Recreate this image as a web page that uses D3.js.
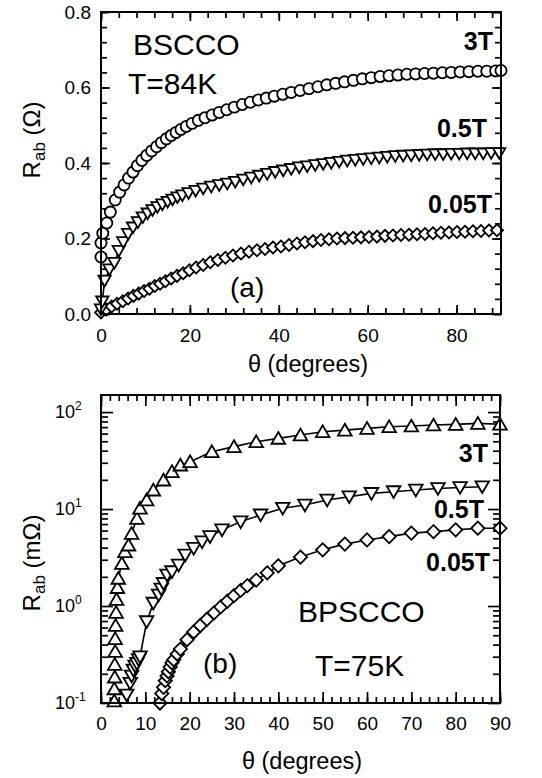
<!DOCTYPE html>
<html><head><meta charset="utf-8">
<script src="https://cdn.jsdelivr.net/npm/d3@7/dist/d3.min.js"></script>
<style>
body{margin:0;background:#fff;}
text{font-family:"Liberation Sans",Arial,Helvetica,sans-serif;fill:#000;}
</style></head>
<body>
<svg id="chart" width="542" height="778"></svg>
<script>
// ---------- DATA: panel (a) BSCCO, T=84K, R_ab in Ohm ----------
const a3T = [[0,0.151],[0,0.188],[0.4,0.214],[1.3,0.241],[2.1,0.270],[3.2,0.302],[4.2,0.323],[5.2,0.342],[6.2,0.360],[7.2,0.376],[8.2,0.393],[9.2,0.407],[10.3,0.420],[11.4,0.432],[12.5,0.443],[13.6,0.454],[14.7,0.464],[15.8,0.473],[16.9,0.481],[18.0,0.489],[19.2,0.497],[20.5,0.505],[21.9,0.513],[23.4,0.520],[25.0,0.527],[26.6,0.534],[28.3,0.541],[30.0,0.548],[31.8,0.555],[33.6,0.561],[35.4,0.567],[37.2,0.572],[39.0,0.577],[40.9,0.582],[42.8,0.587],[44.8,0.592],[46.8,0.597],[48.8,0.602],[50.8,0.607],[52.8,0.611],[54.8,0.615],[56.8,0.619],[58.8,0.623],[60.8,0.626],[62.8,0.629],[64.8,0.631],[66.8,0.633],[68.8,0.635],[70.8,0.636],[72.8,0.637],[74.8,0.638],[76.8,0.639],[78.8,0.640],[80.8,0.641],[82.8,0.642],[84.8,0.643],[86.8,0.643],[88.8,0.644],[90,0.645]];
const a05T = [[0,0.012],[0.3,0.033],[0.8,0.088],[1.9,0.118],[3.0,0.135],[4.0,0.167],[5.0,0.190],[6.1,0.212],[7.2,0.229],[8.3,0.243],[9.4,0.256],[10.5,0.266],[11.6,0.275],[12.7,0.283],[13.8,0.290],[15.0,0.297],[16.1,0.303],[17.2,0.309],[18.3,0.314],[19.7,0.320],[21.3,0.326],[23.0,0.332],[24.8,0.337],[26.6,0.341],[28.4,0.345],[30.2,0.350],[32.0,0.356],[33.8,0.361],[35.6,0.366],[37.4,0.371],[39.2,0.376],[41.0,0.380],[42.8,0.384],[44.6,0.388],[46.4,0.391],[48.2,0.394],[50.0,0.397],[51.8,0.400],[53.6,0.403],[55.4,0.406],[57.2,0.408],[59.0,0.410],[60.8,0.412],[62.6,0.414],[64.4,0.416],[66.2,0.418],[68.0,0.419],[69.8,0.420],[71.6,0.421],[73.4,0.422],[75.2,0.423],[77.0,0.423],[78.8,0.424],[80.6,0.424],[82.4,0.425],[84.2,0.425],[86.0,0.425],[87.8,0.426],[89.6,0.426]];
const a005T = [[0,0.004],[1.2,0.012],[2.4,0.020],[3.6,0.027],[4.9,0.034],[6.1,0.041],[7.3,0.048],[8.5,0.054],[9.7,0.061],[10.9,0.067],[12.1,0.074],[13.3,0.080],[14.5,0.087],[15.8,0.094],[17.1,0.101],[18.5,0.108],[19.9,0.116],[21.4,0.123],[23.0,0.130],[24.6,0.137],[26.3,0.143],[28.0,0.149],[29.7,0.155],[31.5,0.160],[33.3,0.165],[35.1,0.169],[36.9,0.172],[38.7,0.176],[40.5,0.179],[42.3,0.183],[44.1,0.187],[45.9,0.190],[47.7,0.193],[49.5,0.196],[51.3,0.198],[53.1,0.200],[54.9,0.201],[56.7,0.202],[58.5,0.203],[60.3,0.204],[62.1,0.205],[63.9,0.207],[65.7,0.208],[67.5,0.209],[69.3,0.210],[71.1,0.211],[72.9,0.212],[74.7,0.214],[76.5,0.215],[78.3,0.216],[80.1,0.217],[81.9,0.218],[83.7,0.219],[85.5,0.220],[87.3,0.221],[89.1,0.222]];

// ---------- DATA: panel (b) BPSCCO, T=75K, R_ab in mOhm ----------
const b3T = [[3.0,0.105],[3.0,0.14],[3.1,0.185],[3.1,0.25],[3.2,0.34],[3.2,0.46],[3.3,0.63],[3.4,0.86],[3.5,1.17],[3.7,1.55],[3.9,1.93],[4.7,2.75],[5.4,3.63],[6.2,4.25],[6.9,5.6],[8.1,8.0],[8.8,10.2],[10.3,12.4],[11.8,15.7],[14.1,19.9],[16,24.3],[17.9,28.4],[20.1,30.8],[25,39],[30,44],[35,49.5],[40,53.6],[45,58],[50,62.7],[55,65.1],[60,67.9],[65,70.6],[70,71.8],[75,73.5],[80,74.7],[85,76.4],[90,75]];
const b05T = [[5.8,0.121],[6.6,0.16],[6.9,0.19],[7.3,0.219],[7.7,0.24],[8.1,0.256],[8.5,0.28],[8.8,0.30],[10.3,0.69],[11.8,1.07],[13.0,1.3],[13.6,1.5],[14.1,1.71],[14.9,2.09],[16.0,2.26],[17.5,2.65],[19.0,3.36],[20.9,3.94],[22.8,4.6],[24.6,5.2],[27.3,6.1],[31.5,7.4],[36,8.7],[41,10.2],[46,11],[51,12.4],[56,13.4],[61,14.5],[66,15.1],[71,15.7],[76,16.3],[81,16.7],[86,17]];
const b005T = [[13.3,0.1],[13.7,0.125],[14.1,0.145],[14.5,0.17],[14.9,0.19],[15.2,0.21],[15.6,0.235],[16.0,0.26],[16.4,0.28],[17.2,0.32],[17.9,0.36],[19.4,0.45],[20.9,0.54],[22.4,0.63],[23.9,0.73],[25.5,0.85],[27.0,0.98],[28.5,1.12],[30.0,1.28],[31.5,1.45],[33.0,1.62],[35.0,1.85],[37.5,2.2],[40,2.6],[45,3.2],[50,3.8],[55,4.35],[60,4.8],[65,5.2],[70,5.65],[75,5.85],[80,6.1],[85,6.35],[90,6.35]];

// ---------- tick labels ----------
const aXTicks = [0,20,40,60,80];
const aYTicks = [0.0,0.2,0.4,0.6,0.8];
const bXTicks = [0,10,20,30,40,50,60,70,80,90];
const bYTicks = [0.1,1,10,100];
const bYExp = ["-1","0","1","2"];

const svg = d3.select("#chart");
svg.append("rect").attr("width",542).attr("height",778).attr("fill","#fff");

function inwardAxis(g, axisFn, scale, values, size, labels, pad, fs){
  const ax = axisFn(scale).tickValues(values).tickSize(-size).tickPadding(pad);
  if(labels) ax.tickFormat(labels); else ax.tickFormat("");
  g.call(ax);
  g.select(".domain").remove();
  g.selectAll(".tick line").attr("stroke","#000").attr("stroke-width",1.7);
  g.selectAll(".tick text").attr("font-size",fs||19).attr("fill","#000")
    .attr("font-family","Liberation Sans, Arial, sans-serif");
}

function marker(type, size){
  if(type==="circle") return d3.symbol(d3.symbolCircle, size)();
  if(type==="up" || type==="down") return d3.symbol(d3.symbolTriangle, size)();
  return d3.symbol(d3.symbolSquare, size)();
}
function drawSeries(g, data, x, y, type, size){
  g.append("path").datum(data)
    .attr("d", d3.line().x(d=>x(d[0])).y(d=>y(d[1])))
    .attr("fill","none").attr("stroke","#000").attr("stroke-width",1.6);
  const rot = type==="down" ? 180 : (type==="diamond" ? 45 : 0);
  const dy = type==="up" ? 1.5 : (type==="down" ? -1.5 : 0);
  g.selectAll(null).data(data).enter().append("path")
    .attr("d", marker(type,size))
    .attr("transform", d=>`translate(${x(d[0])},${y(d[1])+dy}) rotate(${rot})`)
    .attr("fill","#fff").attr("stroke","#000").attr("stroke-width",1.8);
}

// ================= PANEL (a) =================
{
  const L=101,R=501,T=12,B=314;
  const x = d3.scaleLinear().domain([0,90]).range([L,R]);
  const y = d3.scaleLinear().domain([0,0.8]).range([B,T]);
  const g = svg.append("g");
  const minorX = d3.range(0,91,4), minorY = d3.range(0,0.81,0.04);
  inwardAxis(g.append("g").attr("transform",`translate(0,${B})`), d3.axisBottom, x, minorX, 6);
  inwardAxis(g.append("g").attr("transform",`translate(0,${B})`), d3.axisBottom, x, aXTicks, 9, d=>d3.format("d")(d), 15);
  inwardAxis(g.append("g").attr("transform",`translate(0,${T})`), d3.axisTop, x, minorX, 6);
  inwardAxis(g.append("g").attr("transform",`translate(0,${T})`), d3.axisTop, x, aXTicks, 9);
  inwardAxis(g.append("g").attr("transform",`translate(${L},0)`), d3.axisLeft, y, minorY, 6);
  inwardAxis(g.append("g").attr("transform",`translate(${L},0)`), d3.axisLeft, y, aYTicks, 9, d=>d3.format(".1f")(d), 10);
  inwardAxis(g.append("g").attr("transform",`translate(${R},0)`), d3.axisRight, y, minorY, 6);
  inwardAxis(g.append("g").attr("transform",`translate(${R},0)`), d3.axisRight, y, aYTicks, 9);

  const s = g.append("g");
  drawSeries(s, a005T, x, y, "diamond", 72);
  drawSeries(s, a05T, x, y, "down", 66);
  drawSeries(s, a3T, x, y, "circle", 98);

  g.append("rect").attr("x",L).attr("y",T).attr("width",R-L).attr("height",B-T)
    .attr("fill","none").attr("stroke","#000").attr("stroke-width",2);

  g.append("text").attr("x",133).attr("y",55).attr("font-size",30).text("BSCCO");
  g.append("text").attr("x",128).attr("y",94).attr("font-size",30).text("T=84K");
  g.append("text").attr("x",493).attr("y",50).attr("font-size",25).attr("font-weight","bold").attr("text-anchor","end").text("3T");
  g.append("text").attr("x",487).attr("y",137).attr("font-size",25).attr("font-weight","bold").attr("text-anchor","end").text("0.5T");
  g.append("text").attr("x",492).attr("y",213).attr("font-size",25).attr("font-weight","bold").attr("text-anchor","end").text("0.05T");
  g.append("text").attr("x",230).attr("y",297).attr("font-size",28).text("(a)");
  g.append("text").attr("x",308).attr("y",372).attr("font-size",23.5).attr("text-anchor","middle").text("θ (degrees)");
  const yl = g.append("text").attr("transform","translate(40,140) rotate(-90)").attr("font-size",24).attr("text-anchor","middle");
  yl.append("tspan").text("R");
  yl.append("tspan").attr("font-size",17).attr("dy",5).text("ab");
  yl.append("tspan").attr("dy",-5).text(" (Ω)");
}

// ================= PANEL (b) =================
{
  const L=101,R=500,T=395,B=703;
  const x = d3.scaleLinear().domain([0,90]).range([L,R]);
  const y = d3.scaleLog().domain([0.1,150]).range([B,T]);
  const g = svg.append("g");
  const minorX = d3.range(0,91,2);
  const minorY = [0.1,1,10,100].flatMap(d=>d3.range(2,10).map(k=>k*d)).filter(v=>v<150);
  inwardAxis(g.append("g").attr("transform",`translate(0,${B})`), d3.axisBottom, x, minorX, 6);
  inwardAxis(g.append("g").attr("transform",`translate(0,${B})`), d3.axisBottom, x, bXTicks, 11, d=>d3.format("d")(d), 14);
  inwardAxis(g.append("g").attr("transform",`translate(0,${T})`), d3.axisTop, x, minorX, 6);
  inwardAxis(g.append("g").attr("transform",`translate(0,${T})`), d3.axisTop, x, bXTicks, 11);
  inwardAxis(g.append("g").attr("transform",`translate(${L},0)`), d3.axisLeft, y, minorY, 7);
  inwardAxis(g.append("g").attr("transform",`translate(${L},0)`), d3.axisLeft, y, bYTicks, 12);
  inwardAxis(g.append("g").attr("transform",`translate(${R},0)`), d3.axisRight, y, minorY, 7);
  inwardAxis(g.append("g").attr("transform",`translate(${R},0)`), d3.axisRight, y, bYTicks, 12);

  // log tick labels 10^n
  bYTicks.forEach((v,i)=>{
    const t = g.append("text").attr("x",L-46).attr("y",y(v)+6).attr("font-size",18);
    t.append("tspan").text("10");
    t.append("tspan").attr("font-size",12).attr("dy",-8).text(bYExp[i]);
  });

  drawSeries(g, b005T, x, y, "diamond", 88);
  drawSeries(g, b05T, x, y, "down", 80);
  drawSeries(g, b3T, x, y, "up", 80);

  g.append("rect").attr("x",L).attr("y",T).attr("width",R-L).attr("height",B-T)
    .attr("fill","none").attr("stroke","#000").attr("stroke-width",2);

  g.append("text").attr("x",488).attr("y",462).attr("font-size",25).attr("font-weight","bold").attr("text-anchor","end").text("3T");
  g.append("text").attr("x",484).attr("y",518).attr("font-size",25).attr("font-weight","bold").attr("text-anchor","end").text("0.5T");
  g.append("text").attr("x",490).attr("y",571).attr("font-size",25).attr("font-weight","bold").attr("text-anchor","end").text("0.05T");
  g.append("text").attr("x",298).attr("y",622).attr("font-size",30).text("BPSCCO");
  g.append("text").attr("x",315).attr("y",676).attr("font-size",30).text("T=75K");
  g.append("text").attr("x",203).attr("y",673).attr("font-size",28).text("(b)");
  g.append("text").attr("x",302).attr("y",769).attr("font-size",23.5).attr("text-anchor","middle").text("θ (degrees)");
  const yl = g.append("text").attr("transform","translate(40,563) rotate(-90)").attr("font-size",24).attr("text-anchor","middle");
  yl.append("tspan").text("R");
  yl.append("tspan").attr("font-size",17).attr("dy",5).text("ab");
  yl.append("tspan").attr("dy",-5).text(" (mΩ)");
}
</script>
</body></html>
